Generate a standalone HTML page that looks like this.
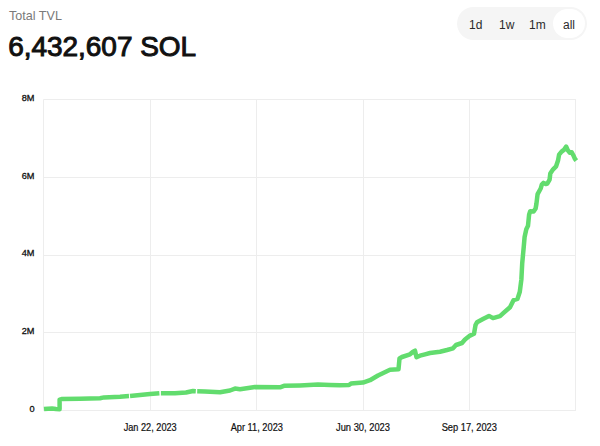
<!DOCTYPE html>
<html><head><meta charset="utf-8">
<style>
html,body{margin:0;padding:0;background:#fff;}
body{width:600px;height:446px;position:relative;overflow:hidden;font-family:"Liberation Sans",sans-serif;}
.t{position:absolute;white-space:nowrap;}
#lbl{left:9px;top:8.5px;font-size:12.6px;color:#7a7a7a;}
#val{left:8.3px;top:30.5px;font-size:28px;color:#111;letter-spacing:-0.05px;-webkit-text-stroke:1px #111;}
#pill{position:absolute;left:457px;top:7px;width:130px;height:33px;border-radius:17px;background:#f5f5f5;}
#sel{position:absolute;left:553px;top:9px;width:32px;height:29px;border-radius:15px;background:#fff;}
.tg{position:absolute;top:17.5px;font-size:12px;color:#2a2a2a;}
svg{position:absolute;left:0;top:0;}
.ax{font-size:9.2px;fill:#111;stroke:#111;stroke-width:0.3px;}
.xl{font-size:10px;fill:#111;stroke:#111;stroke-width:0.2px;}
</style></head><body>
<div class="t" id="lbl">Total TVL</div>
<div class="t" id="val">6,432,607 SOL</div>
<div id="pill"></div>
<div id="sel"></div>
<div class="t tg" style="left:469px">1d</div>
<div class="t tg" style="left:499px">1w</div>
<div class="t tg" style="left:529px">1m</div>
<div class="t tg" style="left:563px">all</div>
<svg width="600" height="446" viewBox="0 0 600 446">
<g stroke="#ededed" stroke-width="1" fill="none">
<line x1="43.5" y1="99.5" x2="576" y2="99.5"/>
<line x1="43.5" y1="177.5" x2="576" y2="177.5"/>
<line x1="43.5" y1="255.5" x2="576" y2="255.5"/>
<line x1="43.5" y1="332.5" x2="576" y2="332.5"/>
<line x1="43.5" y1="410.5" x2="576" y2="410.5"/>
<line x1="43.5" y1="99.5" x2="43.5" y2="410.5"/>
<line x1="150.5" y1="99.5" x2="150.5" y2="410.5"/>
<line x1="256.5" y1="99.5" x2="256.5" y2="410.5"/>
<line x1="363.5" y1="99.5" x2="363.5" y2="410.5"/>
<line x1="469.5" y1="99.5" x2="469.5" y2="410.5"/>
<line x1="575.5" y1="99.5" x2="575.5" y2="410.5"/>
</g>
<g class="ax" text-anchor="end">
<text x="34.5" y="100.5">8M</text>
<text x="34.5" y="178.5">6M</text>
<text x="34.5" y="256">4M</text>
<text x="34.5" y="334">2M</text>
<text x="34.5" y="412">0</text>
</g>
<g class="xl" text-anchor="middle">
<text x="150.2" y="431" textLength="53" lengthAdjust="spacingAndGlyphs">Jan 22, 2023</text>
<text x="256.8" y="431" textLength="52.3" lengthAdjust="spacingAndGlyphs">Apr 11, 2023</text>
<text x="363" y="431" textLength="54" lengthAdjust="spacingAndGlyphs">Jun 30, 2023</text>
<text x="469.3" y="431" textLength="55.3" lengthAdjust="spacingAndGlyphs">Sep 17, 2023</text>
</g>
<g stroke="#62dc6e" stroke-width="4.5" fill="none" stroke-linejoin="round" stroke-linecap="butt">
<path d="M44.0 409.1 L48.0 408.7 L52.0 408.6 L56.0 409.1 L59.6 409.2 L59.6 399.6 L61.5 399.1 L80.0 398.8 L100.0 398.2 L104.0 397.4 L120.0 396.7 L129.0 396.1"/>
<path d="M130.0 396.0 L140.0 394.9 L150.0 394.0 L159.4 393.2"/>
<path d="M160.9 393.2 L175.0 393.3 L186.0 392.5 L193.0 391.0 L195.8 391.2"/>
<path d="M197.2 391.3 L205.0 391.5 L220.0 392.3 L230.0 390.5 L235.0 388.6 L240.0 389.3 L255.0 387.0 L280.0 387.3 L284.0 385.8 L300.0 385.4 L318.0 384.6 L330.0 385.0 L340.0 385.3 L349.0 385.0 L351.0 383.6 L363.0 382.6 L370.0 380.2 L378.0 375.5 L390.0 369.8 L398.5 369.3 L399.5 358.5 L402.0 357.0 L410.0 354.3 L413.0 351.7 L415.0 350.7 L416.5 357.2 L420.0 355.7 L425.0 354.3 L430.0 353.0 L440.0 351.7 L447.0 350.0 L453.0 348.3 L456.0 345.0 L462.0 343.0 L465.0 339.5 L470.0 335.6 L474.0 333.8 L475.5 325.1 L477.0 322.3 L483.0 319.0 L489.0 315.9 L493.0 318.1 L500.0 316.1 L503.0 313.4 L510.0 307.3 L513.5 300.2 L517.5 298.9 L519.8 291.8 L521.4 279.2 L522.2 263.5 L523.0 254.9 L523.8 246.3 L524.6 237.0 L526.3 229.2 L528.0 225.8 L529.1 214.6 L530.2 211.2 L533.6 211.5 L535.6 208.5 L536.4 204.0 L537.0 199.0 L537.6 194.1 L540.7 188.5 L541.8 184.6 L543.5 182.9 L545.7 184.0 L547.4 183.5 L549.6 179.6 L550.3 173.5 L553.1 169.3 L556.1 166.3 L558.1 160.2 L559.1 154.7 L561.6 151.6 L564.2 149.6 L566.2 146.6 L567.7 150.1 L569.7 152.7 L571.7 152.2 L573.3 155.2 L574.8 158.7 L576.3 160.7"/>
</g>
</svg>
</body></html>
